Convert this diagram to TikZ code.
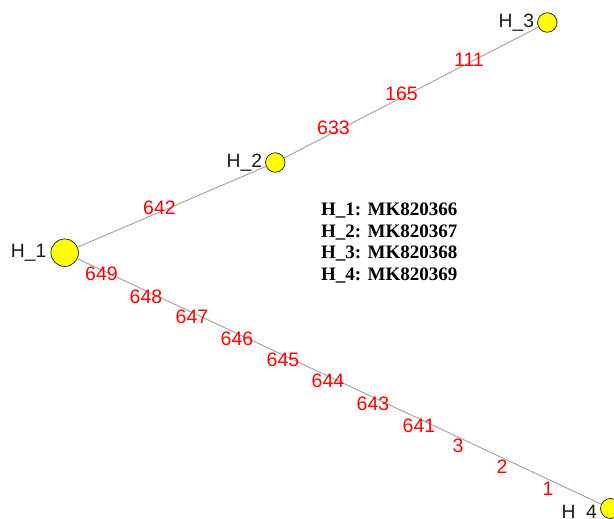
\documentclass[tikz,border=0pt]{standalone}
\usepackage{fontspec}
\setmainfont{Liberation Serif}
\setsansfont{Liberation Sans}
\usepackage{tikz}
\usetikzlibrary{positioning}
\definecolor{hapyellow}{HTML}{FFFF00}
\definecolor{hapedge}{HTML}{A0A0A0}
\definecolor{hapred}{HTML}{FF0000}
\definecolor{hapink}{HTML}{1A1A1A}

\tikzset{
  hapnode/.style={circle, draw=hapink, line width=0.7pt, fill=hapyellow, inner sep=0pt},
  haplabel/.style={font=\sffamily\fontsize{19.3}{21}\selectfont, text=hapink, inner sep=0pt},
  mutlabel/.style={font=\sffamily\fontsize{19.5}{21}\selectfont, text=hapred, inner sep=0pt},
  legendtext/.style={font=\bfseries\fontsize{19}{21}\selectfont, anchor=west, inner sep=0pt},
  edgeline/.style={draw=hapedge, line width=0.9pt}
}

\begin{document}
\begin{tikzpicture}[x=1pt, y=-1pt]
  \useasboundingbox (0,0) rectangle (614,519);
  % haplotypes
  \node[hapnode, minimum size=27.5pt] (h1) at (64.7,252.7) {};
  \node[hapnode, minimum size=19.5pt] (h2) at (275.3,162.5) {};
  \node[hapnode, minimum size=19.5pt] (h3) at (547.3,22.5) {};
  \node[hapnode, minimum size=20pt]   (h4) at (610.5,508.5) {};
  \node[haplabel, left=4pt of h1] (h1lab) {H\_1};
  \node[haplabel, left=3pt of h2] (h2lab) {H\_2};
  \node[haplabel, left=3pt of h3] (h3lab) {H\_3};
  \node[haplabel, left=3pt of h4, yshift=-5pt] (h4lab) {H\_4};
  % edges
  \draw[edgeline] (h1) -- (h2);
  \draw[edgeline] (h2) -- (h3);
  \draw[edgeline] (h1) -- (h4);
  % mutated positions
  \node[mutlabel] (m642) at (159.5,207.5) {642};
  \node[mutlabel] (m633) at (333.5,128) {633};
  \node[mutlabel] (m165) at (401.5,94) {165};
  \node[mutlabel] (m111) at (469,60) {111};
  \node[mutlabel] (m649) at (101.5,274) {649};
  \node[mutlabel] (m648) at (146,296.5) {648};
  \node[mutlabel] (m647) at (192,317) {647};
  \node[mutlabel] (m646) at (237,339) {646};
  \node[mutlabel] (m645) at (283,360) {645};
  \node[mutlabel] (m644) at (328,381) {644};
  \node[mutlabel] (m643) at (373,404) {643};
  \node[mutlabel] (m641) at (419,426) {641};
  \node[mutlabel] (m3) at (458,446) {3};
  \node[mutlabel] (m2) at (502,467) {2};
  \node[mutlabel] (m1) at (548,489) {1};
  % accession numbers
  \node[legendtext] (acc1) at (321,211) {H\_1: MK820366};
  \node[legendtext] (acc2) at (321,232.5) {H\_2: MK820367};
  \node[legendtext] (acc3) at (321,254) {H\_3: MK820368};
  \node[legendtext] (acc4) at (321,275.5) {H\_4: MK820369};
\end{tikzpicture}
\end{document}
